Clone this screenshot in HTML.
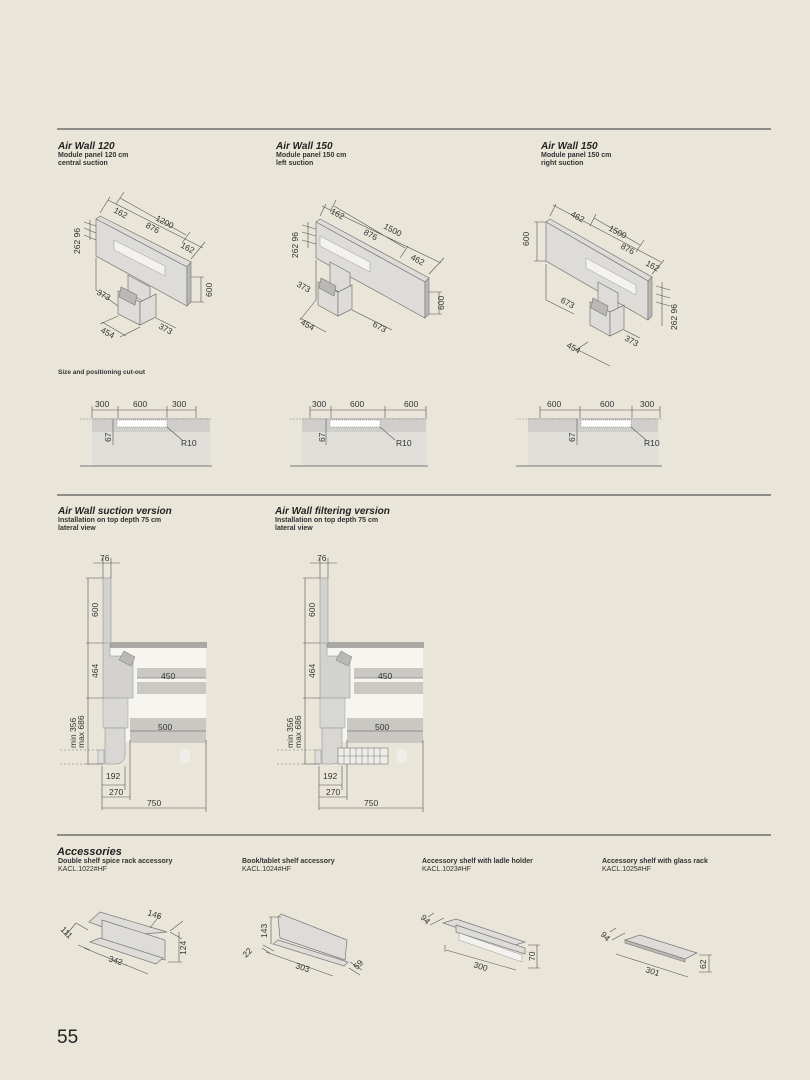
<!DOCTYPE html>
<html><head><meta charset="utf-8"><style>
body{margin:0;background:#e9e5d8;}
svg{display:block}
text{font-family:"Liberation Sans",sans-serif;fill:#333;}
.t{font-size:10px;font-style:italic;font-weight:bold;fill:#222}
.s{font-size:7px;font-weight:bold;fill:#333}
.d{font-size:8.5px;fill:#333}
.ln{stroke:#555;stroke-width:0.6;fill:none}
.pn{fill:#dddcd8;stroke:#777;stroke-width:0.7}
.dk{fill:#b9b8b4;stroke:#777;stroke-width:0.6}
.lt{fill:#f3f2ee;stroke:#999;stroke-width:0.5}
</style></head><body>
<svg width="810" height="1080" viewBox="0 0 810 1080">
<rect width="810" height="1080" fill="#e9e5d8"/>
<line x1="57" y1="129" x2="771" y2="129" stroke="#333" stroke-width="1"/>
<line x1="57" y1="495" x2="771" y2="495" stroke="#333" stroke-width="1"/>
<line x1="57" y1="835" x2="771" y2="835" stroke="#333" stroke-width="1"/>

<text x="58" y="149" class="t">Air Wall 120</text>
<text x="58" y="157" class="s">Module panel 120 cm</text>
<text x="58" y="165" class="s">central suction</text>
<text x="276" y="149" class="t">Air Wall 150</text>
<text x="276" y="157" class="s">Module panel 150 cm</text>
<text x="276" y="165" class="s">left suction</text>
<text x="541" y="149" class="t">Air Wall 150</text>
<text x="541" y="157" class="s">Module panel 150 cm</text>
<text x="541" y="165" class="s">right suction</text>

<!-- Panel 1 -->
<g>
<polygon class="pn" points="96,219 100,216 191,262 187,267"/>
<polygon class="pn" points="96,219 187,267 187,306 96,256"/>
<polygon class="dk" points="187,267 191,262 191,302 187,306"/>
<polygon class="lt" points="114,240 165,266 165,276 114,250"/>
<polygon class="pn" points="128,275 150,287 150,305 128,293"/>
<polygon class="pn" points="118,291 140,302 140,325 118,314"/>
<polygon class="pn" points="140,302 156,294 156,317 140,325"/>
<polygon class="dk" points="121,287 137,295 135,305 119,297"/>
<path class="ln" d="M100,213 L110,197 M191,259 L205,242 M108,200 L203,248 M116,204 L124,192 M182,243 L190,232 M120,198 L186,235 M84,222 L96,226 M84,228 L96,233 M84,235 L96,240 M90,220 L90,240 M96,258 L96,290 M191,277 L204,277 M191,302 L204,302 M201,277 L201,302 M96,290 L118,306 M156,318 L176,328 M140,327 L120,337 M118,316 L100,324 M102,322 L126,336"/>
<text class="d" transform="translate(113,212) rotate(28)">162</text>
<text class="d" transform="translate(155,220) rotate(28)">1200</text>
<text class="d" transform="translate(145,227) rotate(28)">876</text>
<text class="d" transform="translate(180,247) rotate(28)">162</text>
<text class="d" transform="translate(80,254) rotate(-90)">262 96</text>
<text class="d" transform="translate(212,297) rotate(-90)">600</text>
<text class="d" transform="translate(96,294) rotate(28)">373</text>
<text class="d" transform="translate(158,328) rotate(28)">373</text>
<text class="d" transform="translate(100,332) rotate(28)">454</text>
</g>

<!-- Panel 2 -->
<g>
<polygon class="pn" points="316,222 320,219 429,278 425,282"/>
<polygon class="pn" points="316,222 425,282 425,318 316,258"/>
<polygon class="dk" points="425,282 429,278 429,314 425,318"/>
<polygon class="lt" points="320,236 370,262 370,272 320,246"/>
<polygon class="pn" points="330,262 350,273 350,298 330,287"/>
<polygon class="pn" points="318,282 338,292 338,316 318,305"/>
<polygon class="pn" points="338,292 352,285 352,309 338,316"/>
<polygon class="dk" points="321,278 336,286 334,296 319,288"/>
<path class="ln" d="M320,216 L326,204 M429,274 L444,258 M322,206 L441,263 M330,212 L336,200 M400,258 L408,246 M334,206 L405,248 M302,225 L316,229 M302,232 L316,236 M302,240 L316,244 M308,222 L308,248 M316,260 L316,300 M429,292 L442,292 M429,314 L442,314 M439,292 L439,314 M316,300 L300,320 M300,318 L326,332 M352,310 L388,328 M376,322 L392,330"/>
<text class="d" transform="translate(330,213) rotate(28)">162</text>
<text class="d" transform="translate(383,228) rotate(28)">1500</text>
<text class="d" transform="translate(363,234) rotate(28)">876</text>
<text class="d" transform="translate(410,259) rotate(28)">462</text>
<text class="d" transform="translate(298,258) rotate(-90)">262 96</text>
<text class="d" transform="translate(444,310) rotate(-90)">600</text>
<text class="d" transform="translate(296,286) rotate(28)">373</text>
<text class="d" transform="translate(372,326) rotate(28)">673</text>
<text class="d" transform="translate(300,324) rotate(28)">454</text>
</g>

<!-- Panel 3 -->
<g>
<polygon class="pn" points="546,222 550,219 652,277 648,281"/>
<polygon class="pn" points="546,222 648,281 648,320 546,261"/>
<polygon class="dk" points="648,281 652,277 652,316 648,320"/>
<polygon class="lt" points="586,258 636,285 636,295 586,268"/>
<polygon class="pn" points="598,282 618,293 618,318 598,307"/>
<polygon class="pn" points="590,302 610,312 610,336 590,325"/>
<polygon class="pn" points="610,312 624,305 624,329 610,336"/>
<polygon class="dk" points="593,298 608,306 606,316 591,308"/>
<path class="ln" d="M550,216 L556,204 M652,274 L664,260 M553,205 L661,262 M590,226 L596,214 M636,252 L644,240 M594,218 L640,245 M656,286 L670,290 M656,294 L670,298 M656,302 L670,306 M662,282 L662,326 M546,264 L546,300 M534,222 L546,222 M534,261 L546,261 M537,222 L537,261 M546,300 L574,314 M588,342 L576,350 M574,348 L610,366 M624,330 L640,338"/>
<text class="d" transform="translate(570,216) rotate(28)">462</text>
<text class="d" transform="translate(608,230) rotate(28)">1500</text>
<text class="d" transform="translate(620,248) rotate(28)">876</text>
<text class="d" transform="translate(645,265) rotate(28)">162</text>
<text class="d" transform="translate(529,246) rotate(-90)">600</text>
<text class="d" transform="translate(677,330) rotate(-90)">262 96</text>
<text class="d" transform="translate(560,302) rotate(28)">673</text>
<text class="d" transform="translate(624,340) rotate(28)">373</text>
<text class="d" transform="translate(566,347) rotate(28)">454</text>
</g>

<text x="58" y="374" class="s" style="font-size:6.5px">Size and positioning cut-out</text>

<!-- Cut-outs -->
<g id="c1">
<rect x="92" y="418" width="118" height="14" fill="#cfceca"/>
<rect x="92" y="432" width="118" height="34" fill="#dfded9"/>
<line x1="80" y1="419" x2="212" y2="419" stroke="#888" stroke-width="0.5" stroke-dasharray="2,1"/>
<line x1="80" y1="466" x2="212" y2="466" stroke="#777" stroke-width="1"/>
<rect x="117" y="420" width="50" height="7" fill="#fff" stroke="#777" stroke-width="0.5" stroke-dasharray="1,1"/>
<path class="ln" d="M92,410 L196,410 M92,406 L92,418 M118,406 L118,418 M167,406 L167,418 M196,406 L196,418 M113,419 L113,445 M167,427 L182,440"/>
<text x="95" y="407" class="d">300</text><text x="133" y="407" class="d">600</text><text x="172" y="407" class="d">300</text>
<text class="d" transform="translate(111,442) rotate(-90)">67</text>
<text x="181" y="446" class="d">R10</text>
</g>
<g>
<rect x="302" y="418" width="124" height="14" fill="#cfceca"/>
<rect x="302" y="432" width="124" height="34" fill="#dfded9"/>
<line x1="290" y1="419" x2="428" y2="419" stroke="#888" stroke-width="0.5" stroke-dasharray="2,1"/>
<line x1="290" y1="466" x2="428" y2="466" stroke="#777" stroke-width="1"/>
<rect x="330" y="420" width="50" height="7" fill="#fff" stroke="#777" stroke-width="0.5" stroke-dasharray="1,1"/>
<path class="ln" d="M310,410 L426,410 M310,406 L310,418 M331,406 L331,418 M385,406 L385,418 M426,406 L426,418 M326,419 L326,445 M380,427 L395,440"/>
<text x="312" y="407" class="d">300</text><text x="350" y="407" class="d">600</text><text x="404" y="407" class="d">600</text>
<text class="d" transform="translate(325,442) rotate(-90)">67</text>
<text x="396" y="446" class="d">R10</text>
</g>
<g>
<rect x="528" y="418" width="130" height="14" fill="#cfceca"/>
<rect x="528" y="432" width="130" height="34" fill="#dfded9"/>
<line x1="516" y1="419" x2="662" y2="419" stroke="#888" stroke-width="0.5" stroke-dasharray="2,1"/>
<line x1="516" y1="466" x2="662" y2="466" stroke="#777" stroke-width="1"/>
<rect x="581" y="420" width="50" height="7" fill="#fff" stroke="#777" stroke-width="0.5" stroke-dasharray="1,1"/>
<path class="ln" d="M540,410 L660,410 M540,406 L540,418 M580,406 L580,418 M632,406 L632,418 M660,406 L660,418 M577,419 L577,445 M631,427 L646,440"/>
<text x="547" y="407" class="d">600</text><text x="600" y="407" class="d">600</text><text x="640" y="407" class="d">300</text>
<text class="d" transform="translate(575,442) rotate(-90)">67</text>
<text x="644" y="446" class="d">R10</text>
</g>

<text x="58" y="514" class="t">Air Wall suction version</text>
<text x="58" y="522" class="s">Installation on top depth 75 cm</text>
<text x="58" y="530" class="s">lateral view</text>
<text x="275" y="514" class="t">Air Wall filtering version</text>
<text x="275" y="522" class="s">Installation on top depth 75 cm</text>
<text x="275" y="530" class="s">lateral view</text>

<!-- Section 1 -->
<g id="sec">
<rect x="110" y="647" width="96" height="95" fill="#f6f5f0"/>
<rect x="110" y="642" width="97" height="6" fill="#a9a8a4"/>
<rect x="137" y="668" width="69" height="10" fill="#c9c8c3"/>
<rect x="137" y="682" width="69" height="12" fill="#c9c8c3"/>
<rect x="130" y="718" width="76" height="25" fill="#c9c8c3"/>
<rect x="103" y="578" width="8" height="66" fill="#d3d2ce" stroke="#888" stroke-width="0.5"/>
<path d="M103,643 L110,643 L110,656 L123,656 L133,660 L133,698 L103,698 Z" fill="#d3d2ce" stroke="#888" stroke-width="0.5"/>
<polygon points="119,660 124,651 135,657 131,666" fill="#b9b8b4" stroke="#777" stroke-width="0.5"/>
<rect x="103" y="698" width="25" height="30" fill="#d8d7d3" stroke="#999" stroke-width="0.5"/>
<path d="M105,728 L125,728 L125,755 Q124,764 116,764 L105,764 Z" fill="#d8d7d3" stroke="#888" stroke-width="0.5"/>
<rect x="98" y="750" width="6" height="14" fill="#ddd" stroke="#888" stroke-width="0.5"/>
<rect x="180" y="749" width="10" height="14" rx="3" fill="#eeede8"/>
<path class="ln" d="M93,563 L120,563 M103,558 L103,578 M111,558 L111,578 M86,578 L103,578 M86,643 L103,643 M86,698 L103,698 M86,764 L103,764 M88,578 L88,764 M137,678 L206,678 M130,731 L206,731 M102,766 L102,810 M125,766 L125,790 M130,740 L130,800 M206,740 L206,812 M102,785 L125,785 M102,797 L130,797 M102,808 L206,808"/>
<path d="M60,750 L98,750 M60,764 L98,764" stroke="#777" stroke-width="0.5" stroke-dasharray="2,2"/>
<text x="100" y="561" class="d">76</text>
<text class="d" transform="translate(98,617) rotate(-90)">600</text>
<text class="d" transform="translate(98,678) rotate(-90)">464</text>
<text class="d" transform="translate(76,748) rotate(-90)">min 356</text>
<text class="d" transform="translate(84,748) rotate(-90)">max 686</text>
<text x="161" y="679" class="d">450</text>
<text x="158" y="730" class="d">500</text>
<text x="106" y="779" class="d">192</text>
<text x="109" y="795" class="d">270</text>
<text x="147" y="806" class="d">750</text>
</g>
<use href="#sec" transform="translate(217,0)"/>
<g>
<rect x="338" y="748" width="50" height="16" fill="#eeede8" stroke="#777" stroke-width="0.6"/>
<path d="M344,748 L344,764 M350,748 L350,764 M356,748 L356,764 M362,748 L362,764 M368,748 L368,764 M374,748 L374,764 M380,748 L380,764 M338,756 L388,756" stroke="#777" stroke-width="0.5"/>
</g>

<text x="57" y="855" class="t" style="font-size:11px">Accessories</text>
<text x="58" y="863" class="s">Double shelf spice rack accessory</text>
<text x="58" y="871" class="s" style="font-weight:normal">KACL.1022#HF</text>
<text x="242" y="863" class="s">Book/tablet shelf accessory</text>
<text x="242" y="871" class="s" style="font-weight:normal">KACL.1024#HF</text>
<text x="422" y="863" class="s">Accessory shelf with ladle holder</text>
<text x="422" y="871" class="s" style="font-weight:normal">KACL.1023#HF</text>
<text x="602" y="863" class="s">Accessory shelf with glass rack</text>
<text x="602" y="871" class="s" style="font-weight:normal">KACL.1025#HF</text>

<!-- acc 1 -->
<polygon class="pn" points="89,922 100,912 167,932 144,934 137,940"/>
<polygon class="pn" points="102,920 165,940 165,960 102,942"/>
<polygon class="pn" points="90,942 100,938 163,958 156,964"/>
<path class="ln" d="M76,923 L88,930 M76,923 L66,935 M78,945 L90,950 M84,948 L148,974 M170,931 L183,921 M150,928 L160,915 M170,932 L182,939 M168,962 L182,962 M179,932 L179,962"/>
<text class="d" transform="translate(60,930) rotate(45)">111</text>
<text class="d" transform="translate(147,915) rotate(18)">146</text>
<text class="d" transform="translate(108,961) rotate(18)">342</text>
<text class="d" transform="translate(186,955) rotate(-90)">124</text>
<!-- acc 2 -->
<polygon class="pn" points="278,917 281,914 347,940 345,960 280,938"/>
<polygon class="pn" points="273,944 278,940 348,962 344,966"/>
<path class="ln" d="M269,917 L281,917 M271,917 L271,944 M263,945 L274,951 M262,948 L271,954 M266,952 L333,976 M350,962 L362,970 M349,968 L360,975"/>
<text class="d" transform="translate(267,938) rotate(-90)">143</text>
<text class="d" transform="translate(246,958) rotate(-45)">22</text>
<text class="d" transform="translate(295,968) rotate(18)">303</text>
<text class="d" transform="translate(357,970) rotate(-45)">59</text>
<!-- acc 3 -->
<polygon class="pn" points="443,923 456,919 525,942 512,946"/>
<polygon class="pn" points="456,925 525,948 525,954 456,932"/>
<polygon class="lt" points="459,933 522,955 522,962 459,940"/>
<path class="ln" d="M430,925 L444,918 M428,917 L434,913 M445,945 L445,952 M446,950 L516,970 M528,945 L540,945 M528,968 L540,968 M537,945 L537,968"/>
<text class="d" transform="translate(420,918) rotate(45)">94</text>
<text class="d" transform="translate(473,967) rotate(18)">300</text>
<text class="d" transform="translate(535,961) rotate(-90)">70</text>
<!-- acc 4 -->
<polygon class="pn" points="625,940 640,935 697,953 685,959"/>
<polygon class="dk" points="625,940 685,959 685,962 625,943"/>
<path class="ln" d="M612,940 L625,933 M610,932 L616,928 M616,954 L688,977 M699,955 L712,955 M699,972 L712,972 M709,955 L709,972"/>
<text class="d" transform="translate(600,935) rotate(45)">94</text>
<text class="d" transform="translate(645,972) rotate(18)">301</text>
<text class="d" transform="translate(706,969) rotate(-90)">62</text>

<text x="57" y="1043" style="font-size:19px;fill:#222">55</text>
</svg>
</body></html>
